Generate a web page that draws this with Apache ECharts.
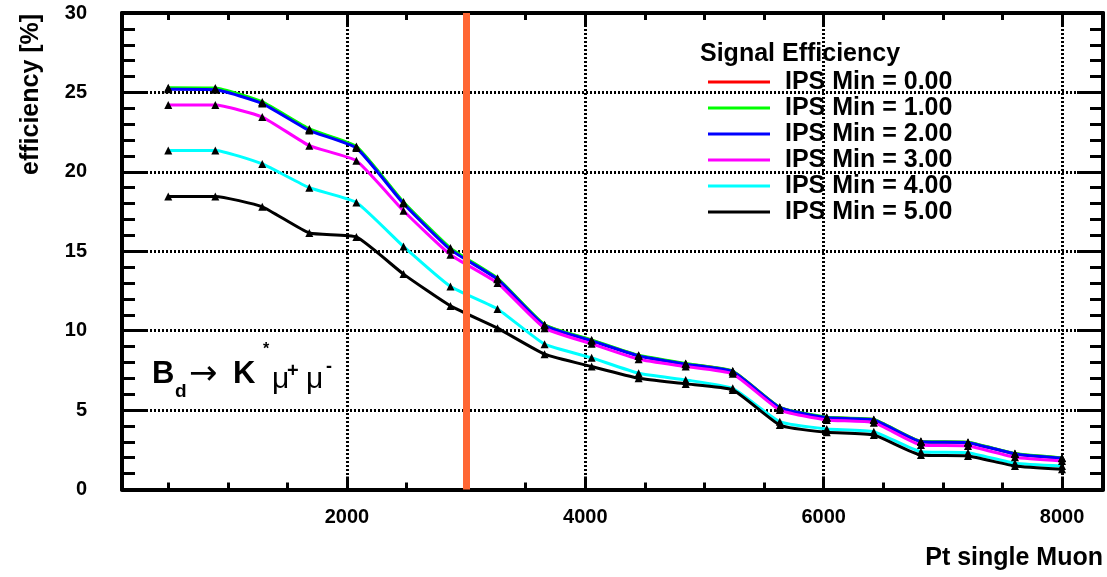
<!DOCTYPE html>
<html>
<head>
<meta charset="utf-8">
<script src="https://cdn.jsdelivr.net/npm/echarts@6/dist/echarts.min.js"></script>
<style>
html,body{margin:0;padding:0;background:#fff;}
#chart{width:1107px;height:577px;}
</style>
</head>
<body>
<div id="chart"></div>
<script>
// ---- data ----
const ptValues = [500, 895, 1289, 1684, 2079, 2474, 2868, 3263, 3658, 4053, 4447, 4842, 5237, 5632, 6026, 6421, 6816, 7211, 7605, 8000];
const seriesNames = ['IPS Min = 0.00', 'IPS Min = 1.00', 'IPS Min = 2.00', 'IPS Min = 3.00', 'IPS Min = 4.00', 'IPS Min = 5.00'];
const effIps0 = [25.25, 25.22, 24.35, 22.65, 21.55, 18.05, 15.15, 13.27, 10.35, 9.39, 8.43, 7.91, 7.44, 5.16, 4.53, 4.39, 3.02, 2.96, 2.25, 1.98];
const effIps1 = [25.30, 25.28, 24.40, 22.70, 21.60, 18.10, 15.20, 13.30, 10.38, 9.42, 8.45, 7.93, 7.46, 5.18, 4.55, 4.41, 3.03, 2.97, 2.26, 1.99];
const effIps2 = [25.20, 25.17, 24.30, 22.60, 21.50, 18.00, 15.10, 13.24, 10.32, 9.36, 8.41, 7.89, 7.42, 5.15, 4.52, 4.38, 3.01, 2.95, 2.24, 1.97];
const effIps3 = [24.20, 24.20, 23.45, 21.65, 20.70, 17.55, 14.78, 13.00, 10.16, 9.17, 8.20, 7.74, 7.28, 5.00, 4.38, 4.21, 2.80, 2.74, 2.03, 1.80];
const effIps4 = [21.35, 21.35, 20.50, 19.00, 18.07, 15.30, 12.78, 11.37, 9.15, 8.29, 7.32, 6.90, 6.37, 4.27, 3.81, 3.64, 2.38, 2.32, 1.65, 1.48];
const effIps5 = [18.45, 18.45, 17.80, 16.15, 15.90, 13.56, 11.56, 10.16, 8.52, 7.74, 7.00, 6.65, 6.27, 4.06, 3.60, 3.43, 2.17, 2.11, 1.48, 1.27];
const cutValue = 3000;
const xMinorTicks = [500, 1000, 1500, 2000, 2500, 3000, 3500, 4000, 4500, 5000, 5500, 6000, 6500, 7000, 7500, 8000];
const xMajorTicks = [2000, 4000, 6000, 8000];

// ---- styles ----
const colors = ['#ff0000', '#00ff00', '#0000ff', '#ff00ff', '#00ffff', '#000000'];
const FONT = '"Liberation Sans", Arial, Helvetica, sans-serif';
const allData = [effIps0, effIps1, effIps2, effIps3, effIps4, effIps5];
const X_MIN = 112, X_MAX = 8344;

const chart = echarts.init(document.getElementById('chart'), null, {renderer: 'canvas'});

const series = allData.map((vals, i) => {
  const s = {
    name: seriesNames[i],
    type: 'line',
    xAxisIndex: 0,
    yAxisIndex: 0,
    data: ptValues.map((x, k) => [x, vals[k]]),
    smooth: 0.15,
    symbol: 'triangle',
    symbolSize: 8,
    lineStyle: {color: colors[i], width: 3},
    itemStyle: {color: '#000'},
    emphasis: {disabled: true},
    animation: false
  };
  if (i === allData.length - 1) {
    s.markLine = {
      silent: true,
      symbol: ['none', 'none'],
      label: {show: false},
      lineStyle: {color: '#ff6633', width: 7, type: 'solid'},
      data: [{xAxis: cutValue}],
      animation: false
    };
  }
  return s;
});

const tickLine = {color: '#000', width: 3};
const axisLineStyle = {show: true, lineStyle: {color: '#000', width: 4}};

function xAxis(position, opts) {
  return Object.assign({
    type: 'value', position: position, min: X_MIN, max: X_MAX,
    axisLine: {show: false},
    axisTick: {show: false},
    axisLabel: {show: false},
    splitLine: {show: false}
  }, opts);
}

const option = {
  animation: false,
  backgroundColor: '#fff',
  grid: {left: 122, right: 4, top: 13, bottom: 87.5, containLabel: false},
  xAxis: [
    xAxis('bottom', {
      axisLine: axisLineStyle,
      axisTick: {show: true, inside: true, length: 7, lineStyle: tickLine, customValues: xMinorTicks},
      axisLabel: {show: true, customValues: xMajorTicks, margin: 18, color: '#000',
        fontFamily: FONT, fontWeight: 'bold', fontSize: 20, formatter: v => String(v)}
    }),
    xAxis('bottom', {
      axisTick: {show: true, inside: true, length: 13, lineStyle: tickLine, customValues: xMajorTicks},
      splitLine: {show: true, lineStyle: {color: '#000', width: 3, type: [2, 2]}}
    }),
    xAxis('top', {
      axisLine: axisLineStyle,
      axisTick: {show: true, inside: true, length: 7, lineStyle: tickLine, customValues: xMinorTicks}
    }),
    xAxis('top', {
      axisTick: {show: true, inside: true, length: 13, lineStyle: tickLine, customValues: xMajorTicks}
    })
  ],
  yAxis: [
    {
      type: 'value', position: 'left', min: 0, max: 30, interval: 5,
      axisLine: axisLineStyle,
      axisTick: {show: true, inside: true, length: 26, lineStyle: tickLine},
      minorTick: {show: true, splitNumber: 5, length: 13, lineStyle: tickLine},
      axisLabel: {show: true, margin: 35, color: '#000', fontFamily: FONT, fontWeight: 'bold', fontSize: 20},
      splitLine: {show: true, lineStyle: {color: '#000', width: 3, type: [2, 2]}}
    },
    {
      type: 'value', position: 'right', min: 0, max: 30, interval: 5,
      axisLine: axisLineStyle,
      axisTick: {show: true, inside: true, length: 26, lineStyle: tickLine},
      minorTick: {show: true, splitNumber: 5, length: 13, lineStyle: tickLine},
      axisLabel: {show: false},
      splitLine: {show: false}
    }
  ],
  legend: {
    orient: 'vertical',
    left: 703, top: 64,
    itemWidth: 62, itemHeight: 3, itemGap: 0,
    selectedMode: false,
    textStyle: {color: '#000', fontFamily: FONT, fontWeight: 'bold', fontSize: 25, lineHeight: 26, padding: [0, 0, 0, 10]},
    data: seriesNames.map((n, i) => ({name: n, icon: 'rect', itemStyle: {color: colors[i]}}))
  },
  graphic: [
    {type: 'text', left: 700, top: 42, style: {text: 'Signal Efficiency', fill: '#000', font: 'bold 25px ' + FONT}},
    {type: 'text', x: 31, y: 175, rotation: Math.PI / 2,
      style: {text: 'efficiency [%]', fill: '#000', font: 'bold 25px ' + FONT, align: 'left', verticalAlign: 'middle'}},
    {type: 'text', x: 1103, y: 558,
      style: {text: 'Pt single Muon', fill: '#000', font: 'bold 25px ' + FONT, align: 'right', verticalAlign: 'middle'}},
    {type: 'text', x: 152, y: 374, style: {text: 'B', fill: '#000', font: 'bold 31px ' + FONT, verticalAlign: 'middle'}},
    {type: 'text', x: 175, y: 392, style: {text: 'd', fill: '#000', font: 'bold 19px ' + FONT, verticalAlign: 'middle'}},
    {type: 'text', x: 189, y: 375, style: {text: '\u2192', fill: '#000', font: '34px "DejaVu Sans", sans-serif', verticalAlign: 'middle'}},
    {type: 'text', x: 233, y: 374, style: {text: 'K', fill: '#000', font: 'bold 31px ' + FONT, verticalAlign: 'middle'}},
    {type: 'text', x: 263, y: 350, style: {text: '*', fill: '#000', font: 'bold 16px ' + FONT, verticalAlign: 'middle'}},
    {type: 'text', x: 272, y: 380, style: {text: '\u03bc', fill: '#000', font: '30px ' + FONT, verticalAlign: 'middle'}},
    {type: 'text', x: 287, y: 371, style: {text: '+', fill: '#000', font: 'bold 20px ' + FONT, verticalAlign: 'middle'}},
    {type: 'text', x: 306, y: 380, style: {text: '\u03bc', fill: '#000', font: '30px ' + FONT, verticalAlign: 'middle'}},
    {type: 'text', x: 326, y: 367, style: {text: '-', fill: '#000', font: 'bold 18px ' + FONT, verticalAlign: 'middle'}}
  ],
  series: series
};
chart.setOption(option);
</script>
</body>
</html>
